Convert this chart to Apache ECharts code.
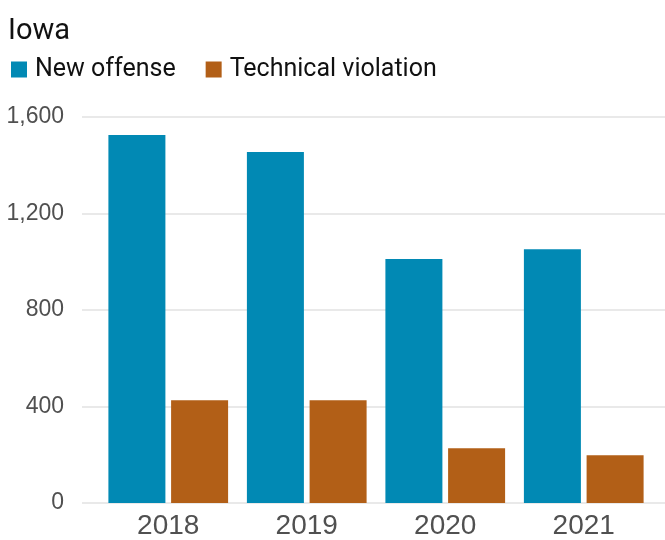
<!DOCTYPE html>
<html>
<head>
<meta charset="utf-8">
<script src="https://cdn.jsdelivr.net/npm/echarts@6/dist/echarts.min.js"></script>
<style>
    html, body { margin: 0; padding: 0; background: #fff; }
    #chart { width: 665px; height: 540px; }
</style>
</head>
<body>
<div id="chart"></div>
<script>
    // data
    var years = ['2018', '2019', '2020', '2021'];
    var newOffense = [1525, 1455, 1011, 1052];
    var technicalViolation = [426, 426, 227, 198];
    var yTicks = [0, 400, 800, 1200, 1600];

    var axisFont = '"Liberation Sans", Arial, sans-serif';
    var textFont = 'Roboto, "Noto Sans", sans-serif';

    var chart = echarts.init(document.getElementById('chart'));
    var option = {
        animation: false,
        title: {
            text: 'Iowa',
            left: 3,
            top: 12,
            textStyle: { fontFamily: textFont, fontSize: 29, fontWeight: 'normal', color: '#111' }
        },
        legend: {
            left: 6,
            top: 52,
            itemWidth: 16,
            itemHeight: 16,
            itemGap: 30,
            icon: 'rect',
            textStyle: { fontFamily: textFont, fontSize: 25, color: '#111', padding: [0, 0, 0, 3] },
            data: ['New offense', 'Technical violation']
        },
        grid: [
            // grid for gridlines and y labels (wider than the bars)
            { left: 82, right: 0, top: 117, bottom: 37 },
            // grid for the bars
            { left: 99, right: 12, top: 117, bottom: 37 }
        ],
        xAxis: [
            { gridIndex: 0, type: 'category', data: years, show: false },
            {
                gridIndex: 1,
                type: 'category',
                data: years,
                axisLine: { show: false },
                axisTick: { show: false },
                axisLabel: { fontFamily: axisFont, fontSize: 28, color: '#505050', margin: 9 }
            }
        ],
        yAxis: [
            {
                gridIndex: 0,
                type: 'value',
                min: yTicks[0],
                max: yTicks[yTicks.length - 1],
                interval: 400,
                axisLine: { show: false },
                axisTick: { show: false },
                axisLabel: {
                    fontFamily: axisFont, fontSize: 23, color: '#505050', margin: 18,
                    formatter: function (v) { return v.toLocaleString('en-US'); }
                },
                splitLine: { lineStyle: { color: '#e9e9e9', width: 2 } }
            },
            {
                gridIndex: 1,
                type: 'value',
                min: yTicks[0],
                max: yTicks[yTicks.length - 1],
                interval: 400,
                show: false,
                splitLine: { show: false }
            }
        ],
        series: [
            {
                name: 'New offense',
                type: 'bar',
                xAxisIndex: 1,
                yAxisIndex: 1,
                barWidth: 57,
                barGap: '10%',
                itemStyle: { color: '#0189b4' },
                data: newOffense
            },
            {
                name: 'Technical violation',
                type: 'bar',
                xAxisIndex: 1,
                yAxisIndex: 1,
                barWidth: 57,
                barGap: '10%',
                itemStyle: { color: '#b25f17' },
                data: technicalViolation
            }
        ]
    };
    chart.setOption(option);
</script>
</body>
</html>
